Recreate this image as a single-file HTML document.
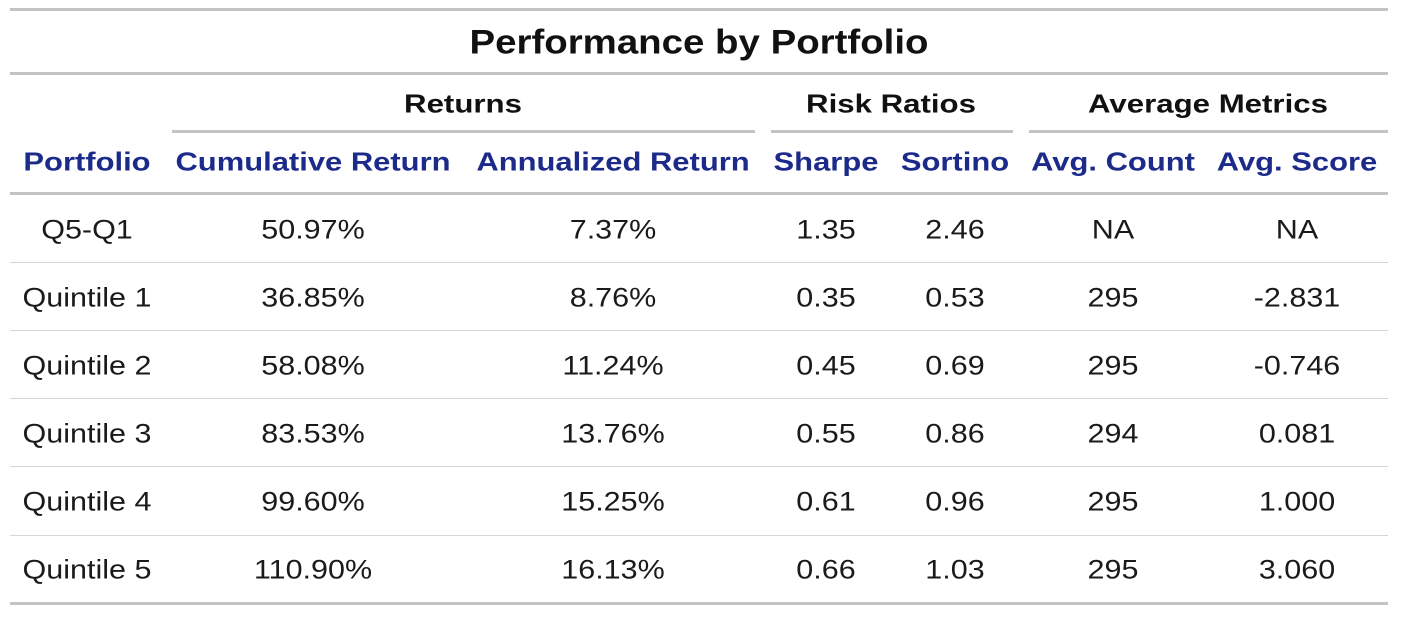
<!DOCTYPE html>
<html><head><meta charset="utf-8"><style>
body{margin:0;width:1404px;height:620px;background:#fff;position:relative;font-family:"Liberation Sans",sans-serif;overflow:hidden}
.l{position:absolute;background:#c4c4c4}
.t{position:absolute;transform:translate(-50%,-50%) scaleX(1.13);white-space:nowrap;font-size:27px;color:#1a1a1a}
.h{color:#1c2a8a;font-weight:bold;font-size:26px;transform:translate(-50%,-50%) scaleX(1.19)}
.s{font-weight:bold;font-size:26px;color:#111;transform:translate(-50%,-50%) scaleX(1.2)}
</style></head><body>
<div class="l" style="left:10px;top:8px;width:1378px;height:3px"></div>
<div class="l" style="left:10px;top:72px;width:1378px;height:3px"></div>
<div class="l" style="left:172px;top:130px;width:583px;height:3px"></div>
<div class="l" style="left:771px;top:130px;width:242px;height:3px"></div>
<div class="l" style="left:1029px;top:130px;width:359px;height:3px"></div>
<div class="l" style="left:10px;top:192px;width:1378px;height:3px"></div>
<div class="l" style="left:10px;top:262px;width:1378px;height:1px;background:#d6d6d6"></div>
<div class="l" style="left:10px;top:330px;width:1378px;height:1px;background:#d6d6d6"></div>
<div class="l" style="left:10px;top:398px;width:1378px;height:1px;background:#d6d6d6"></div>
<div class="l" style="left:10px;top:466px;width:1378px;height:1px;background:#d6d6d6"></div>
<div class="l" style="left:10px;top:535px;width:1378px;height:1px;background:#d6d6d6"></div>
<div class="l" style="left:10px;top:602px;width:1378px;height:3px"></div>

<div class="t" style="left:699px;top:43px;font-weight:bold;font-size:34px;color:#111">Performance by Portfolio</div>
<div class="t s" style="left:463px;top:104px">Returns</div>
<div class="t s" style="left:891px;top:104px">Risk Ratios</div>
<div class="t s" style="left:1208px;top:104px">Average Metrics</div>

<div class="t h" style="left:87px;top:162px">Portfolio</div>
<div class="t h" style="left:313px;top:162px">Cumulative Return</div>
<div class="t h" style="left:613px;top:162px">Annualized Return</div>
<div class="t h" style="left:826px;top:162px">Sharpe</div>
<div class="t h" style="left:955px;top:162px">Sortino</div>
<div class="t h" style="left:1113px;top:162px">Avg. Count</div>
<div class="t h" style="left:1297px;top:162px">Avg. Score</div>

<div class="t" style="left:87px;top:230px">Q5-Q1</div><div class="t" style="left:313px;top:230px">50.97%</div><div class="t" style="left:613px;top:230px">7.37%</div><div class="t" style="left:826px;top:230px">1.35</div><div class="t" style="left:955px;top:230px">2.46</div><div class="t" style="left:1113px;top:230px">NA</div><div class="t" style="left:1297px;top:230px">NA</div>
<div class="t" style="left:87px;top:298px">Quintile 1</div><div class="t" style="left:313px;top:298px">36.85%</div><div class="t" style="left:613px;top:298px">8.76%</div><div class="t" style="left:826px;top:298px">0.35</div><div class="t" style="left:955px;top:298px">0.53</div><div class="t" style="left:1113px;top:298px">295</div><div class="t" style="left:1297px;top:298px">-2.831</div>
<div class="t" style="left:87px;top:366px">Quintile 2</div><div class="t" style="left:313px;top:366px">58.08%</div><div class="t" style="left:613px;top:366px">11.24%</div><div class="t" style="left:826px;top:366px">0.45</div><div class="t" style="left:955px;top:366px">0.69</div><div class="t" style="left:1113px;top:366px">295</div><div class="t" style="left:1297px;top:366px">-0.746</div>
<div class="t" style="left:87px;top:434px">Quintile 3</div><div class="t" style="left:313px;top:434px">83.53%</div><div class="t" style="left:613px;top:434px">13.76%</div><div class="t" style="left:826px;top:434px">0.55</div><div class="t" style="left:955px;top:434px">0.86</div><div class="t" style="left:1113px;top:434px">294</div><div class="t" style="left:1297px;top:434px">0.081</div>
<div class="t" style="left:87px;top:502px">Quintile 4</div><div class="t" style="left:313px;top:502px">99.60%</div><div class="t" style="left:613px;top:502px">15.25%</div><div class="t" style="left:826px;top:502px">0.61</div><div class="t" style="left:955px;top:502px">0.96</div><div class="t" style="left:1113px;top:502px">295</div><div class="t" style="left:1297px;top:502px">1.000</div>
<div class="t" style="left:87px;top:570px">Quintile 5</div><div class="t" style="left:313px;top:570px">110.90%</div><div class="t" style="left:613px;top:570px">16.13%</div><div class="t" style="left:826px;top:570px">0.66</div><div class="t" style="left:955px;top:570px">1.03</div><div class="t" style="left:1113px;top:570px">295</div><div class="t" style="left:1297px;top:570px">3.060</div>
</body></html>
